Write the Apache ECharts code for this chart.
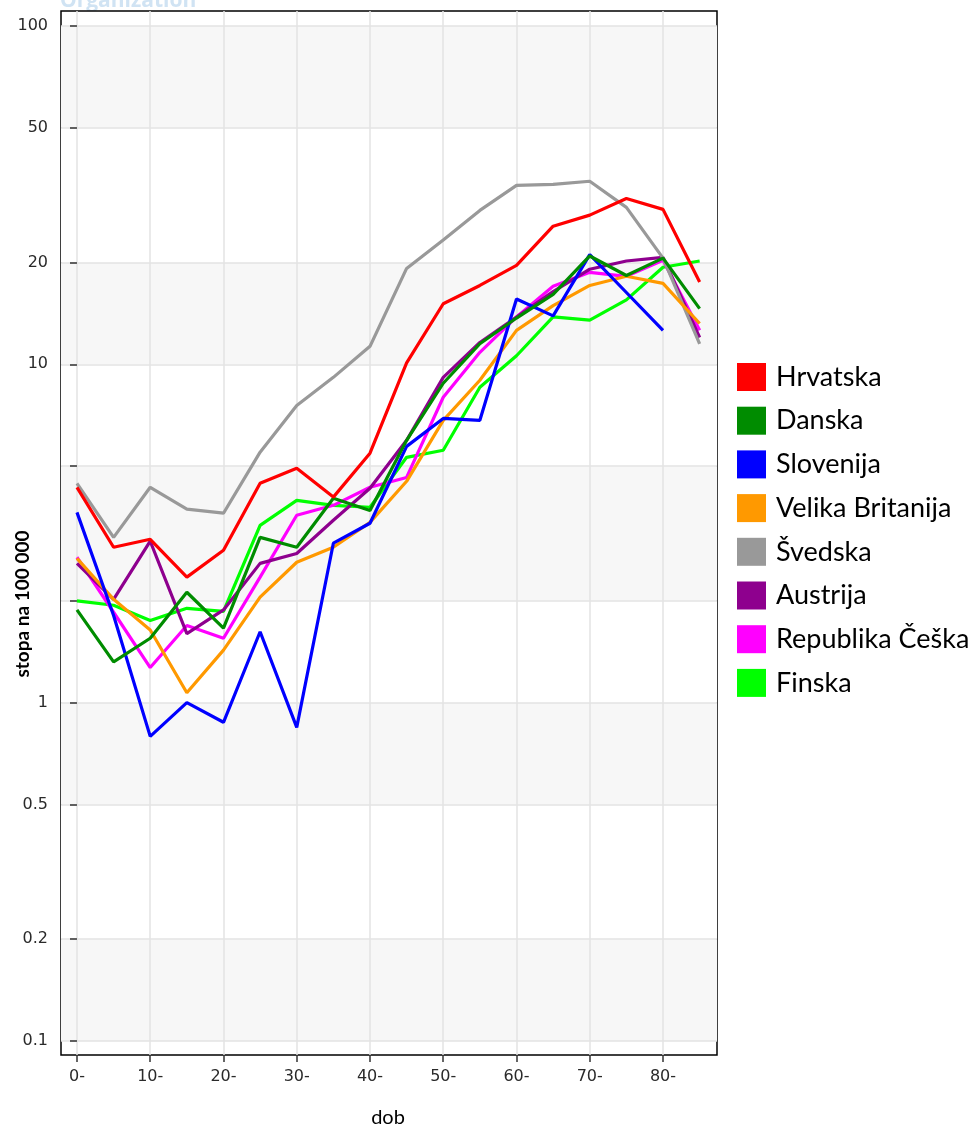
<!DOCTYPE html>
<html>
<head>
<meta charset="utf-8">
<script src="https://cdn.jsdelivr.net/npm/echarts@6/dist/echarts.min.js"></script>
<style>
html,body{margin:0;padding:0;background:#fff;}
#chart{width:976px;height:1126px;}
</style>
</head>
<body>
<div id="chart"></div>
<script>
// Age groups (start of each 5-year band)
const ages = [0, 5, 10, 15, 20, 25, 30, 35, 40, 45, 50, 55, 60, 65, 70, 75, 80, 85];
const xTickValues = [0, 10, 20, 30, 40, 50, 60, 70, 80];
const yLabelValues = [0.1, 0.2, 0.5, 1, 10, 20, 50, 100];
const yTickValues = [0.1, 0.2, 0.5, 1, 2, 5, 10, 20, 50, 100];

const countries = ['Hrvatska', 'Danska', 'Slovenija', 'Velika Britanija', 'Švedska', 'Austrija', 'Republika Češka', 'Finska'];
const colors = ['#ff0000', '#008c00', '#0000ff', '#ff9900', '#999999', '#8e008e', '#ff00ff', '#00ff00'];

const hrvatska = [4.33, 2.88, 3.04, 2.35, 2.82, 4.45, 4.93, 4.05, 5.46, 10.1, 15.1, 17.1, 19.6, 25.6, 27.6, 30.9, 28.7, 17.5];
const danska = [1.88, 1.32, 1.55, 2.12, 1.66, 3.08, 2.88, 4.02, 3.70, 5.96, 8.79, 11.5, 13.7, 16.1, 20.9, 18.3, 20.6, 14.6];
const slovenija = [3.65, 1.81, 0.795, 1.0, 0.875, 1.62, 0.845, 2.96, 3.39, 5.72, 6.92, 6.83, 15.6, 13.9, 21.1, 16.3, 12.6, null];
const velikaBritanija = [2.67, 2.02, 1.64, 1.07, 1.43, 2.05, 2.60, 2.88, 3.41, 4.51, 6.83, 8.97, 12.6, 14.9, 17.1, 18.2, 17.35, 13.2];
const svedska = [4.45, 3.08, 4.33, 3.73, 3.63, 5.50, 7.56, 9.15, 11.3, 19.2, 23.3, 28.5, 33.8, 34.0, 34.75, 29.1, 20.6, 11.5];
const austrija = [2.58, 2.02, 3.0, 1.60, 1.88, 2.58, 2.76, 3.46, 4.30, 5.96, 9.15, 11.6, 13.8, 16.4, 19.1, 20.2, 20.7, 12.0];
const ceska = [2.69, 1.85, 1.27, 1.69, 1.55, 2.35, 3.58, 3.83, 4.33, 4.63, 7.99, 10.85, 13.8, 17.0, 18.7, 18.2, 20.3, 12.6];
const finska = [2.0, 1.94, 1.75, 1.90, 1.86, 3.34, 3.96, 3.83, 3.78, 5.31, 5.57, 8.55, 10.6, 13.8, 13.5, 15.5, 19.35, 20.2];

const seriesValues = [hrvatska, danska, slovenija, velikaBritanija, svedska, austrija, ceska, finska];

const chart = echarts.init(document.getElementById('chart'), null, {renderer: 'canvas'});

const series = [];
for (let i = countries.length - 1; i >= 0; i--) {
  const pts = [];
  ages.forEach((a, k) => { if (seriesValues[i][k] != null) pts.push([a, seriesValues[i][k]]); });
  series.push({
    name: countries[i],
    type: 'line',
    data: pts,
    symbol: 'none',
    color: colors[i],
    lineStyle: {width: 3.2, color: colors[i]},
    emphasis: {disabled: true}
  });
}

const labelFont = 'DejaVu Sans';

const option = {
  animation: false,
  backgroundColor: '#ffffff',
  grid: {
    left: 61, top: 11, width: 656, height: 1044,
    show: true, borderColor: '#000', borderWidth: 1.5, backgroundColor: '#ffffff', z: 0
  },
  legend: {
    data: countries,
    orient: 'vertical',
    left: 737, top: 363,
    padding: 0,
    icon: 'rect',
    itemWidth: 29, itemHeight: 28, itemGap: 15.7,
    textStyle: {fontFamily: 'Lato', fontSize: 27, lineHeight: 28, color: '#000', padding: [0, 0, 0, 5]},
    selectedMode: false
  },
  xAxis: {
    type: 'value',
    min: -2.18, max: 87.37,
    axisLine: {show: false},
    axisTick: {show: true, length: 7, customValues: xTickValues, lineStyle: {color: '#333', width: 1.5}},
    axisLabel: {
      customValues: xTickValues,
      formatter: v => v + '-',
      margin: 14,
      fontFamily: labelFont, fontSize: 16, color: '#2a2a2a'
    },
    splitLine: {show: true, lineStyle: {color: '#e3e3e3', width: 1.5}}
  },
  yAxis: {
    type: 'log',
    logBase: 10,
    min: 0.09092, max: 110.7,
    axisLine: {show: false},
    axisTick: {show: true, length: 7, customValues: yTickValues, lineStyle: {color: '#333', width: 1.5}},
    axisLabel: {
      customValues: yLabelValues,
      formatter: v => String(v),
      margin: 13,
      fontFamily: labelFont, fontSize: 16, color: '#2a2a2a'
    },
    splitLine: {show: true, lineStyle: {color: '#e3e3e3', width: 1.5}},
    splitArea: {show: true, areaStyle: {color: ['#f7f7f7', '#ffffff']}}
  },
  graphic: [
    {
      type: 'text', x: 60, y: 12, z: -1,
      style: {text: 'Organization', fontFamily: 'Open Sans', fontWeight: 'bold', fontSize: 21, fill: '#d0e3f3', verticalAlign: 'bottom'}
    },
    {
      type: 'text', x: 23, y: 604, rotation: Math.PI / 2,
      style: {text: 'stopa na 100 000', fontFamily: 'Lato', fontWeight: 'bold', fontSize: 19, fill: '#000', align: 'center', verticalAlign: 'middle'}
    },
    {
      type: 'text', x: 388, y: 1118,
      style: {text: 'dob', fontFamily: 'Lato', fontSize: 20, fill: '#000', align: 'center', verticalAlign: 'middle'}
    }
  ],
  series: series
};

chart.setOption(option);
</script>
</body>
</html>
